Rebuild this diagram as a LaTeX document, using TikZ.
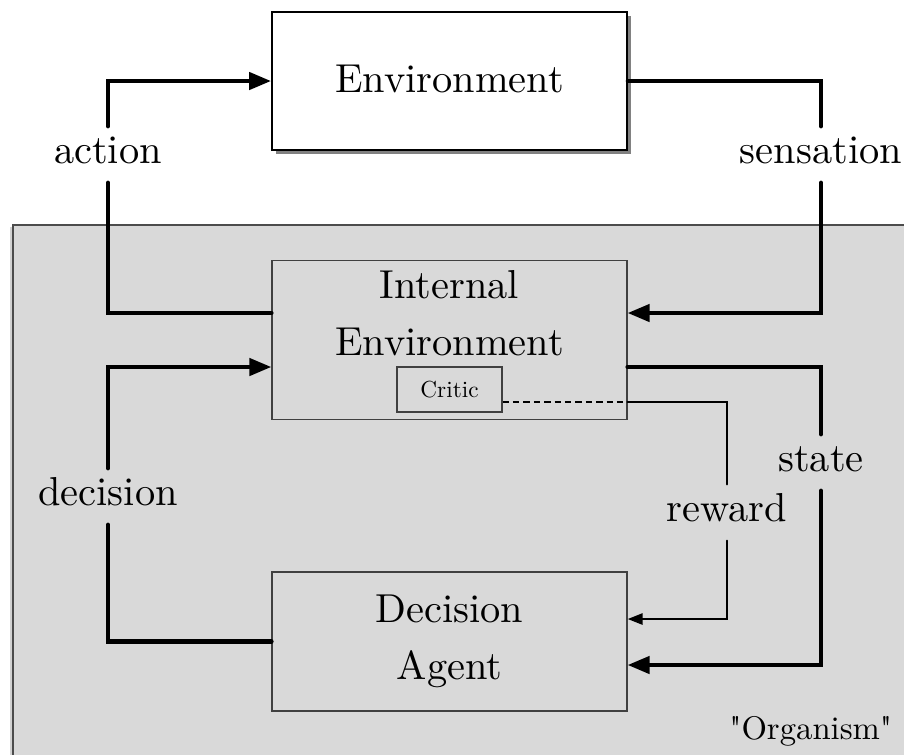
\documentclass[tikz,border=0pt]{standalone}
\usepackage{graphicx}
\usetikzlibrary{arrows.meta,shadows}
\begin{document}
\begin{tikzpicture}[x=0.25pt,y=-0.25pt,
  font=\fontsize{10.1}{14.25}\selectfont,
  box/.style={draw=black!75, line width=0.3pt, fill=black!15, minimum width=88.75pt, inner sep=0pt},
  envbox/.style={draw=black, line width=0.45pt, fill=white, minimum width=88.75pt, minimum height=34.5pt,
     inner sep=0pt, text height=6.9pt, text depth=1.4pt,
     drop shadow={shadow xshift=0.9pt, shadow yshift=-0.9pt, opacity=0.7, fill=black!70}},
  conn/.style={line width=1.1pt, line cap=round},
  bigarrow/.style={conn, -{Triangle[length=5.5pt,width=4.25pt]}},
  rconn/.style={line width=0.65pt, line cap=round},
  rarrow/.style={rconn, -{Triangle[length=3.75pt,width=2.75pt]}},
  lab/.style={inner sep=0pt, text height=9pt, text depth=4.75pt, anchor=base}]
\useasboundingbox (0,0) rectangle (904,754);
\fill[white] (0,0) rectangle (904,754);
\clip (0,0) rectangle (904,754);

% organism area
\draw[draw=black!70, line width=0.3pt, fill=black!15,
  drop shadow={shadow xshift=-0.7pt, shadow yshift=-0.5pt, opacity=0.35}]
  (13,225) rectangle (930,790);

% boxes
\node[envbox] (env) at (449.5,81) {Environment};
\node[box, minimum height=39.75pt] (ie) at (449.5,340) {};
\node[inner sep=0pt, align=center, anchor=north] (ietext) at (449.5,270) {Internal\\Environment};
\node[box, minimum width=26.25pt, minimum height=11.25pt] (critic) at (449.5,389.5) {\scalebox{0.575}{Critic}};
\node[box, minimum height=34.75pt, align=center] (da) at (449.5,641.5) {Decision\\Agent};

% labels
\node[lab] (action) at (108,163) {action};
\node[lab] (sensation) at (821,163) {sensation};
\node[lab] (decision) at (108,505) {decision};
\node[lab] (state) at (821,471) {state};
\node[lab] (reward) at (727,521) {reward};
\node[inner sep=0pt, anchor=base east] (org) at (893,739) {\scalebox{0.81}{\textquotedbl Organism\textquotedbl}};

% connectors
\draw[conn] (ie.west |- 0,313) -| (action.south);
\draw[bigarrow] (action.north) |- (env.west);
\draw[conn] (env.east) -| (sensation.north);
\draw[bigarrow] (sensation.south) |- (ie.east |- 0,313);
\draw[conn] (da.west) -| (decision.south);
\draw[bigarrow] (decision.north) |- (ie.west |- 0,367);
\draw[conn] (ie.east |- 0,367) -| (state.north);
\draw[bigarrow] (state.south) |- (da.east |- 0,665);
\draw[line width=0.7pt, dash pattern=on 1.6pt off 1pt] (critic.east |- 0,402) -- (ie.east |- 0,402);
\draw[rconn] (ie.east |- 0,402) -| (reward.north);
\draw[rarrow] (reward.south) |- (da.east |- 0,619);
\end{tikzpicture}
\end{document}
